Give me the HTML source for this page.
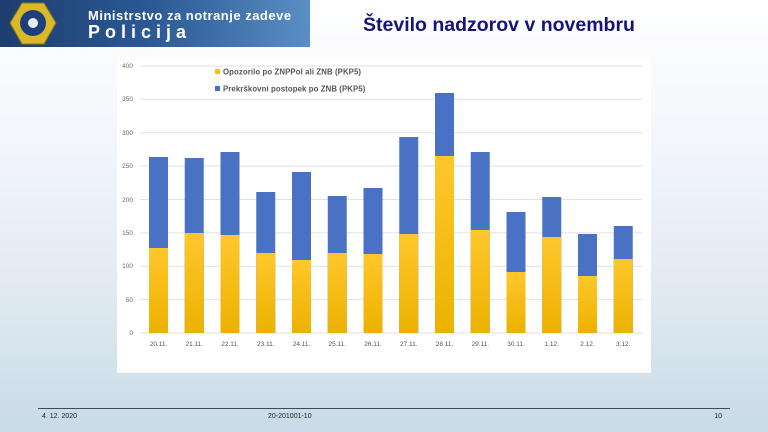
<!DOCTYPE html>
<html><head><meta charset="utf-8"><style>
html,body{margin:0;padding:0;width:768px;height:432px;overflow:hidden;font-family:"Liberation Sans",sans-serif}
</style></head><body>
<svg width="768" height="432" viewBox="0 0 768 432" xmlns="http://www.w3.org/2000/svg">
<defs>
<linearGradient id="bg" x1="0" y1="0" x2="0" y2="1">
<stop offset="0" stop-color="#ffffff"/><stop offset="0.35" stop-color="#f2f5fb"/><stop offset="0.7" stop-color="#dfe9f1"/><stop offset="1" stop-color="#c8dbe6"/></linearGradient>
<linearGradient id="ban" x1="0" y1="0" x2="1" y2="0">
<stop offset="0" stop-color="#1d3d6e"/><stop offset="0.5" stop-color="#2c5a96"/><stop offset="1" stop-color="#5a8fc4"/></linearGradient>
<linearGradient id="yl" x1="0" y1="0" x2="0" y2="1">
<stop offset="0" stop-color="#ffc72c"/><stop offset="1" stop-color="#ecb200"/></linearGradient>
</defs>
<rect width="768" height="432" fill="url(#bg)"/>
<rect x="0" y="0" width="310" height="47" fill="url(#ban)"/>
<polygon points="22,3 44,3 56,23 44,44 22,44 10,23" fill="#d9b92a" stroke="#8a7416" stroke-width="1"/>
<circle cx="33" cy="23" r="13" fill="#1f3f7a"/>
<circle cx="33" cy="23" r="5" fill="#e8eef8"/>
<text x="88" y="20" font-size="13" fill="#ffffff" font-weight="bold" letter-spacing="0.5">Ministrstvo za notranje zadeve</text>
<text x="88" y="38" font-size="18" fill="#ffffff" font-weight="bold" letter-spacing="5">Policija</text>
<text x="363" y="31" font-size="19.5" font-weight="bold" fill="#14147a">Število nadzorov v novembru</text>
<rect x="117" y="57" width="534" height="316" fill="#ffffff"/>
<g stroke="#e2e2e2" stroke-width="1">
<line x1="140" y1="66" x2="642" y2="66"/><line x1="140" y1="99.4" x2="642" y2="99.4"/>
<line x1="140" y1="132.8" x2="642" y2="132.8"/><line x1="140" y1="166.1" x2="642" y2="166.1"/>
<line x1="140" y1="199.5" x2="642" y2="199.5"/><line x1="140" y1="232.9" x2="642" y2="232.9"/>
<line x1="140" y1="266.3" x2="642" y2="266.3"/><line x1="140" y1="299.6" x2="642" y2="299.6"/>
<line x1="140" y1="333" x2="642" y2="333"/></g>
<g font-size="6.5" fill="#666" text-anchor="end">
<text x="133" y="68">400</text><text x="133" y="101">350</text><text x="133" y="135">300</text><text x="133" y="168">250</text><text x="133" y="202">200</text><text x="133" y="235">150</text><text x="133" y="268">100</text><text x="133" y="302">50</text><text x="133" y="335">0</text></g>
<g fill="#4a72c4">
<rect x="149" y="157" width="19" height="176"/><rect x="184.75" y="158" width="19" height="175"/>
<rect x="220.5" y="152" width="19" height="181"/><rect x="256.25" y="192" width="19" height="141"/>
<rect x="292" y="172" width="19" height="161"/><rect x="327.75" y="196" width="19" height="137"/>
<rect x="363.5" y="188" width="19" height="145"/><rect x="399.25" y="137" width="19" height="196"/>
<rect x="435" y="93" width="19" height="240"/><rect x="470.75" y="152" width="19" height="181"/>
<rect x="506.5" y="212" width="19" height="121"/><rect x="542.25" y="197" width="19" height="136"/>
<rect x="578" y="234" width="19" height="99"/><rect x="613.75" y="226" width="19" height="107"/></g>
<g fill="url(#yl)">
<rect x="149" y="248" width="19" height="85"/><rect x="184.75" y="233" width="19" height="100"/>
<rect x="220.5" y="235" width="19" height="98"/><rect x="256.25" y="253" width="19" height="80"/>
<rect x="292" y="260" width="19" height="73"/><rect x="327.75" y="253" width="19" height="80"/>
<rect x="363.5" y="254" width="19" height="79"/><rect x="399.25" y="234" width="19" height="99"/>
<rect x="435" y="156" width="19" height="177"/><rect x="470.75" y="230" width="19" height="103"/>
<rect x="506.5" y="272" width="19" height="61"/><rect x="542.25" y="237" width="19" height="96"/>
<rect x="578" y="276" width="19" height="57"/><rect x="613.75" y="259" width="19" height="74"/></g>
<g font-size="6.5" fill="#555" text-anchor="middle">
<text x="158.5" y="346">20.11.</text><text x="194.25" y="346">21.11.</text><text x="230" y="346">22.11.</text><text x="265.75" y="346">23.11.</text><text x="301.5" y="346">24.11.</text><text x="337.25" y="346">25.11.</text><text x="373" y="346">26.11.</text><text x="408.75" y="346">27.11.</text><text x="444.5" y="346">28.11.</text><text x="480.25" y="346">29.11.</text><text x="516" y="346">30.11.</text><text x="551.75" y="346">1.12.</text><text x="587.5" y="346">2.12.</text><text x="623.25" y="346">3.12.</text></g>
<rect x="215" y="69" width="5" height="5" fill="#ffc000"/>
<text x="223" y="74.5" font-size="7.8" fill="#555" font-weight="bold" letter-spacing="0.1">Opozorilo po ZNPPol ali ZNB (PKP5)</text>
<rect x="215" y="86" width="5" height="5" fill="#4a72c4"/>
<text x="223" y="91.5" font-size="7.8" fill="#555" font-weight="bold" letter-spacing="0.1">Prekrškovni postopek po ZNB (PKP5)</text>
<line x1="38" y1="408.5" x2="730" y2="408.5" stroke="#3a4a5a" stroke-width="1"/>
<g font-size="7" fill="#222"><text x="42" y="418">4. 12. 2020</text><text x="268" y="418">20-201001-10</text><text x="722" y="418" text-anchor="end">10</text></g>
</svg>
</body></html>
